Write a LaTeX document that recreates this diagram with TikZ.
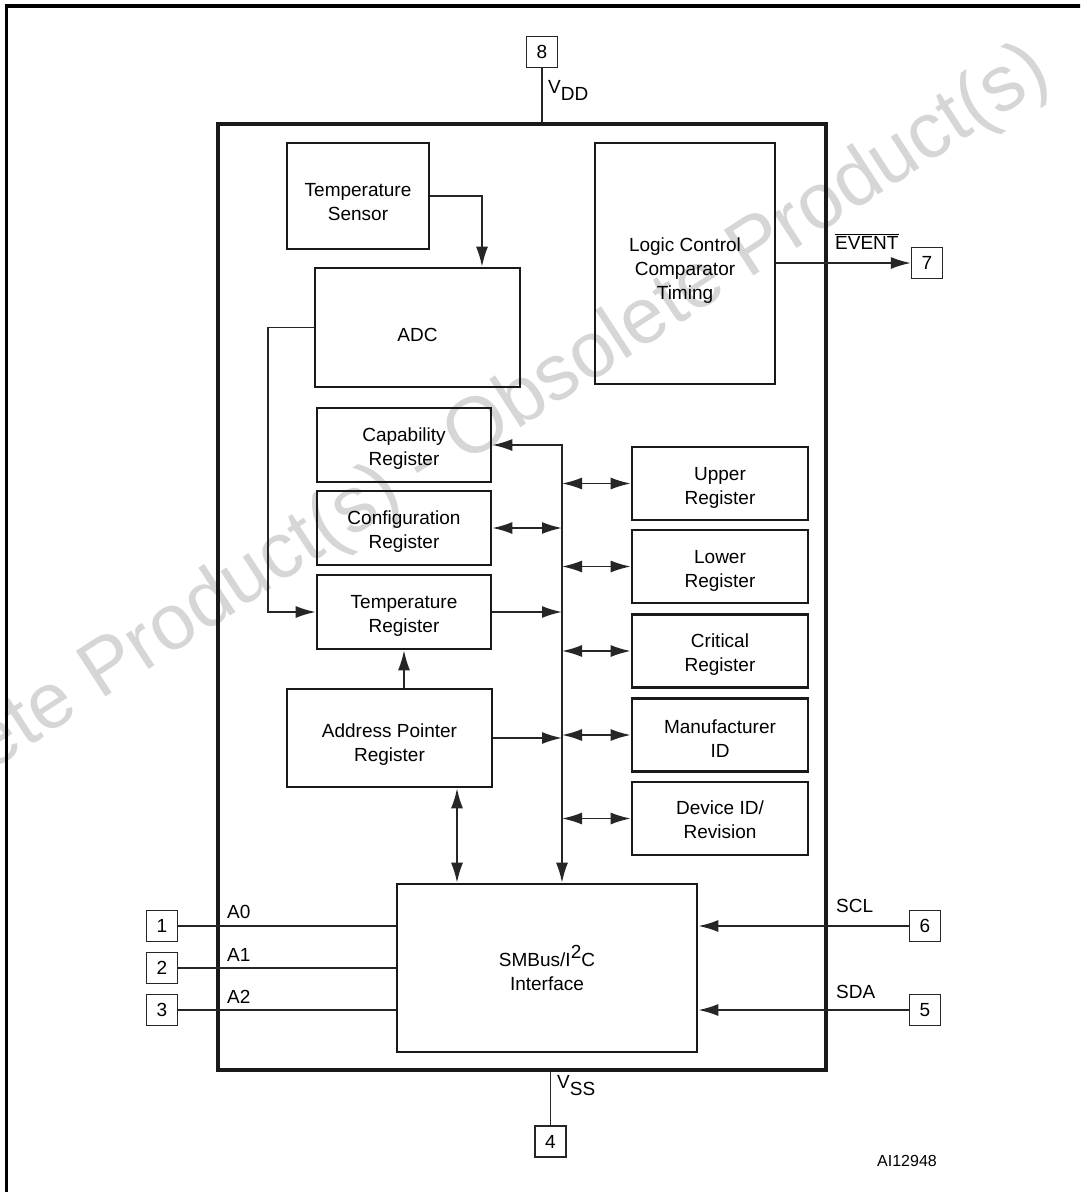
\documentclass[tikz,border=0pt]{standalone}
\usepackage{fontspec}
\setmainfont{Liberation Sans}
\usetikzlibrary{arrows.meta,calc}
\newcommand\bfs{\fontsize{19}{24}\selectfont}
\begin{document}
\begin{tikzpicture}[x=1pt,y=-1pt,
  >={Latex[length=20pt,width=12pt]},
  blk/.style={draw=black!90, line width=2.6pt, inner sep=0pt},
  txt/.style={align=center, font=\bfs, inner sep=0pt, yshift=-4pt},
  pin/.style={draw=black!85, line width=1.3pt, font=\bfs, minimum width=31pt, minimum height=31pt, inner sep=0pt},
  conn/.style={line width=1.8pt, draw=black!85},
  lbl/.style={font=\bfs, inner sep=0pt, anchor=base west}
]
\useasboundingbox (0,0) rectangle (1080,1192);
\clip (0,0) rectangle (1080,1192);
\fill[white] (0,0) rectangle (1080,1192);
% watermark
\node[rotate=33, text=black!16, font=\fontsize{79}{81}\selectfont, inner sep=0pt] (wm) at (424,466) {Obsolete Product(s) - Obsolete Product(s)};
% outer frame
\draw[line width=3pt] (6,1200) -- (6,6);
\draw[line width=4pt] (4.5,6) -- (1090,6);
% chip
\node[draw=black!90, line width=4pt, minimum width=608pt, minimum height=946pt, inner sep=0pt] (chip) at (522,597) {};
% blocks
\node[blk, minimum width=142pt, minimum height=106pt, label={[txt,yshift=-2pt]center:Temperature\\Sensor}] (ts) at (358,196) {};
\node[blk, minimum width=205pt, minimum height=119pt, label={[txt,yshift=-3pt]center:ADC}] (adc) at (417.5,327.5) {};
\node[blk, minimum width=180pt, minimum height=241pt, label={[txt,yshift=-3pt]center:Logic Control\\Comparator\\Timing}] (logic) at (685,263.5) {};
\node[blk, minimum width=174pt, minimum height=74pt, label={[txt]center:Capability\\Register}] (cap) at (404,445) {};
\node[blk, minimum width=174pt, minimum height=74pt, label={[txt]center:Configuration\\Register}] (conf) at (404,528) {};
\node[blk, minimum width=174pt, minimum height=74pt, label={[txt]center:Temperature\\Register}] (treg) at (404,612) {};
\node[blk, minimum width=205pt, minimum height=98pt, label={[txt,yshift=-3pt]center:Address Pointer\\Register}] (apr) at (389.5,738) {};
\node[blk, minimum width=176pt, minimum height=73pt, label={[txt]center:Upper\\Register}] (upper) at (720,483.5) {};
\node[blk, minimum width=176pt, minimum height=73pt, label={[txt]center:Lower\\Register}] (lower) at (720,566.5) {};
\node[blk, minimum width=176pt, minimum height=73pt, label={[txt]center:Critical\\Register}] (crit) at (720,651) {};
\node[blk, minimum width=176pt, minimum height=73pt, label={[txt]center:Manufacturer\\ID}] (manu) at (720,735) {};
\node[blk, minimum width=176pt, minimum height=73pt, label={[txt,yshift=3pt]center:Device ID/\\Revision}] (dev) at (720,818.5) {};
\node[blk, minimum width=300pt, minimum height=168pt, label={[txt,yshift=4pt]center:SMBus/I\raisebox{0.45em}{2}C\\Interface}] (smb) at (547,968) {};
% pins
\node[pin] (p8) at (542,52) {8};
\node[pin] (p7) at (927,263) {7};
\node[pin] (p1) at (162,926) {1};
\node[pin] (p2) at (162,968) {2};
\node[pin] (p3) at (162,1010) {3};
\node[pin] (p6) at (925,926) {6};
\node[pin] (p5) at (925,1010) {5};
\node[pin] (p4) at (550.5,1141.5) {4};
% helper coordinates
\coordinate (bt) at (562,445);
\coordinate (ax) at (457,0);
% connectors
\draw[conn,->] (ts.east) -| ([xshift=64.5pt]adc.north);
\draw[conn,->] (adc.west) -- ++(-46,0) |- (treg.west);
\draw[conn,<->] (cap.east) -- (bt) -- (smb.north -| bt);
\draw[conn,<->] (conf.east) -- (conf.east -| bt);
\draw[conn,->] (treg.east) -- (treg.east -| bt);
\draw[conn,->] (apr.east) -- (apr.east -| bt);
\draw[conn,->] (apr.north -| treg.south) -- (treg.south);
\draw[conn,<->] (apr.south -| ax) -- (smb.north -| ax);
\draw[conn,<->] (upper.west -| bt) -- (upper.west);
\draw[conn,<->] (lower.west -| bt) -- (lower.west);
\draw[conn,<->] (crit.west -| bt) -- (crit.west);
\draw[conn,<->] (manu.west -| bt) -- (manu.west);
\draw[conn,<->] (dev.west -| bt) -- (dev.west);
\draw[conn,->] (logic.east |- p7) -- (p7.west);
\draw[conn] (p8.south) -- (p8.south |- chip.north);
\draw[conn] (p4.north) -- (p4.north |- chip.south);
\draw[conn] (p1.east) -- (smb.west |- p1);
\draw[conn] (p2.east) -- (smb.west |- p2);
\draw[conn] (p3.east) -- (smb.west |- p3);
\draw[conn,->] (p6.west) -- (smb.east |- p6);
\draw[conn,->] (p5.west) -- (smb.east |- p5);
% labels
\node[lbl] (lvdd) at (548,93) {V\raisebox{-0.38em}{DD}};
\node[lbl] (lvss) at (557,1088) {V\raisebox{-0.38em}{SS}};
\node[lbl] (la0) at (227,918) {A0};
\node[lbl] (la1) at (227,961) {A1};
\node[lbl] (la2) at (227,1003) {A2};
\node[lbl] (lscl) at (836,912) {SCL};
\node[lbl] (lsda) at (836,998) {SDA};
\node[lbl] (lev) at (835,249) {$\overline{\mbox{EVENT}}$};
\node[lbl, font=\fontsize{16}{18}\selectfont] (lid) at (877,1166) {AI12948};
\end{tikzpicture}
\end{document}
